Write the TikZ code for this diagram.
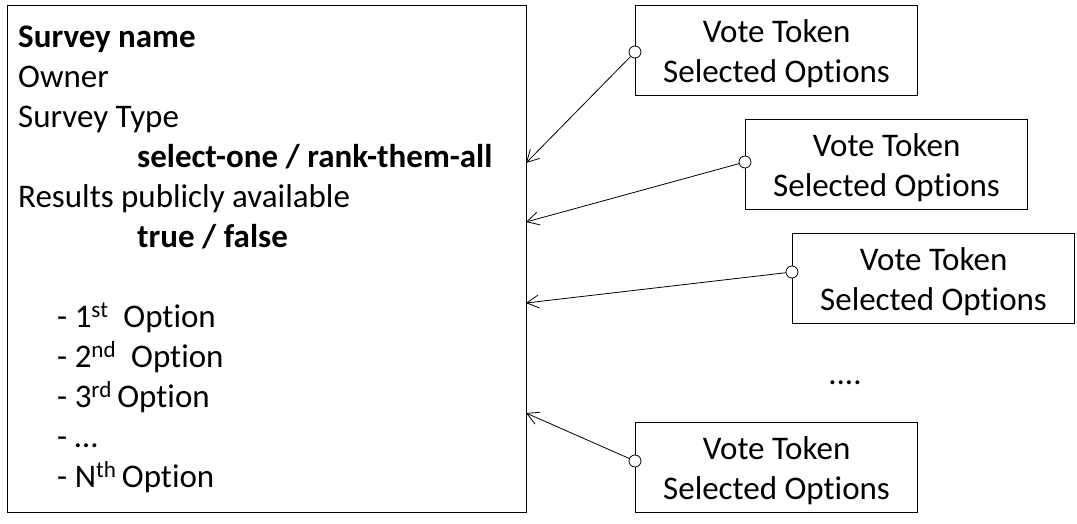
\documentclass[tikz,border=0pt]{standalone}
\usepackage{fontspec}
\setmainfont{Carlito}[Ligatures=NoCommon]
\usetikzlibrary{arrows.meta}
\newcommand{\tokentext}{\raisebox{0pt}[29pt]{Vote Token}\\Selected Options}
\tikzset{
  txt/.style={anchor=base west, inner sep=0pt, font=\fontsize{33}{40}\selectfont},
  tok/.style={draw, line width=1.1pt, anchor=north west, minimum width=282pt, minimum height=90pt,
    align=center, inner sep=0pt, font=\fontsize{33}{40}\selectfont},
  mainbox/.style={draw, line width=1.1pt, anchor=north west, minimum width=519pt, minimum height=507pt, inner sep=0pt},
  dot/.style={circle, draw, line width=0.8pt, minimum size=12pt, inner sep=0pt, fill=white},
  conn/.style={line width=0.8pt, -{Straight Barb[length=12pt,width=13pt,line width=0.8pt]}}
}
\begin{document}
\begin{tikzpicture}[x=1pt,y=-1pt]
\useasboundingbox (0,0) rectangle (1077,523);
\node[mainbox] (main) at (7,5) {};
\node[txt] (l1) at (18,47) {\textbf{Survey name}};
\node[txt] (l2) at (18,87) {Owner};
\node[txt] (l3) at (18,127) {Survey Type};
\node[txt] (l4) at (137,167) {\textbf{select-one / rank-them-all}};
\node[txt] (l5) at (18,207) {Results publicly available};
\node[txt] (l6) at (137,247) {\textbf{true / false}};
\node[txt] (l7) at (57,327) {- 1\textsuperscript{st}\ \ Option};
\node[txt] (l8) at (57,367) {- 2\textsuperscript{nd}\ \ Option};
\node[txt] (l9) at (57,407) {- 3\textsuperscript{rd}\,Option};
\node[txt] (l10) at (57,447) {- \dots};
\node[txt] (l11) at (57,487) {- N\textsuperscript{th}\,Option};

\node[tok] (t1) at (635,5) {\tokentext};
\node[tok] (t2) at (745,119) {\tokentext};
\node[tok] (t3) at (792,233) {\tokentext};
\node[tok] (t4) at (635,422) {\tokentext};
\node[txt, anchor=base] (dots) at (845,384) {....};

\node[dot] (c1) at (635,52) {};
\node[dot] (c2) at (745,162) {};
\node[dot] (c3) at (792,272) {};
\node[dot] (c4) at (635,461) {};
\coordinate (a1) at (526,163);
\coordinate (a2) at (526,222);
\coordinate (a3) at (526,303);
\coordinate (a4) at (526,413);
\draw[conn] (c1) -- (a1);
\draw[conn] (c2) -- (a2);
\draw[conn] (c3) -- (a3);
\draw[conn] (c4) -- (a4);
\end{tikzpicture}
\end{document}
